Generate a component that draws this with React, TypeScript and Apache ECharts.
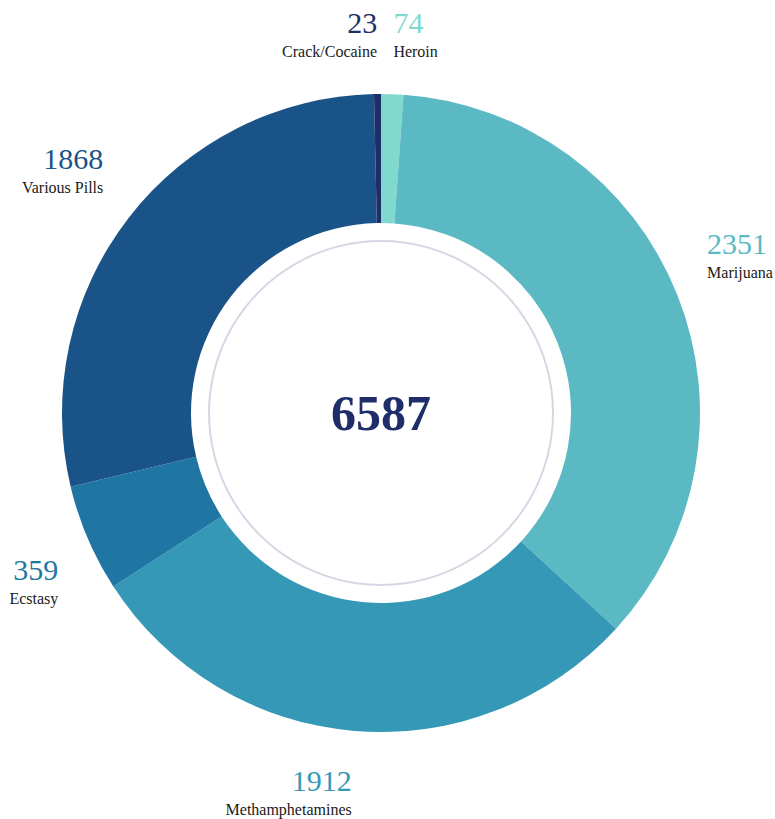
import React, { useEffect, useRef } from "react";
import * as echarts from "echarts";

const categories = ["Heroin", "Marijuana", "Methamphetamines", "Ecstasy", "Various Pills", "Crack/Cocaine"];
const values = [74, 2351, 1912, 359, 1868, 23];
const colors = ["#80d9cf", "#5bb9c3", "#3598b7", "#1f76a2", "#1a5387", "#1e2e69"];
const total = values.reduce((a, b) => a + b, 0);

const SERIF = "'Liberation Serif', 'Times New Roman', serif";
const CX = 381;
const CY = 413;

export default function App() {
  const ref = useRef<HTMLDivElement>(null);
  useEffect(() => {
    document.body.style.margin = "0";
    const chart = echarts.init(ref.current!, undefined, { renderer: "svg" });
    const data = categories.map((name, i) => ({
      name,
      value: values[i],
      itemStyle: { color: colors[i] },
      label: {
        rich: {
          v: { color: colors[i], fontSize: 30, fontFamily: SERIF, lineHeight: 36 },
          n: { color: "#1a1a1a", fontSize: 16, fontFamily: SERIF, lineHeight: 22 },
        },
      },
    }));
    chart.setOption({
      animation: false,
      backgroundColor: "#ffffff",
      series: [
        {
          type: "pie",
          center: [CX, CY],
          radius: [190, 319],
          startAngle: 90,
          clockwise: true,
          avoidLabelOverlap: false,
          silent: true,
          data,
          label: {
            show: true,
            position: "outside",
            formatter: (p: any) => `{v|${p.value}}\n{n|${p.name}}`,
            distanceToLabelLine: 0,
          },
          labelLine: { show: false, length: 32, length2: 0 },
          labelLayout: (p: any) => {
            const mid = p.labelRect.y + p.labelRect.height / 2;
            return { verticalAlign: mid < CY ? "bottom" : "top" };
          },
        },
        {
          type: "pie",
          center: [CX, CY],
          radius: [171, 173],
          silent: true,
          data: [{ name: "total", value: total, itemStyle: { color: "#d9d5e5" } }],
          label: {
            show: true,
            position: "center",
            formatter: () => String(total),
            color: "#1f2e69",
            fontSize: 50,
            fontWeight: "bold",
            fontFamily: SERIF,
          },
          labelLine: { show: false },
        },
      ],
    });
    return () => chart.dispose();
  }, []);
  return <div ref={ref} style={{ width: 775, height: 819 }} />;
}
